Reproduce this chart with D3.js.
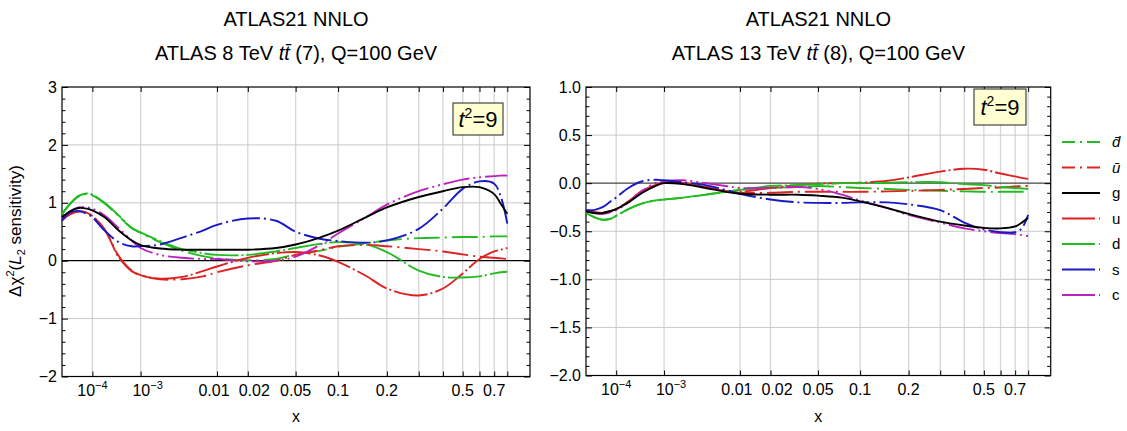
<!DOCTYPE html>
<html><head><meta charset="utf-8">
<script src="https://cdn.jsdelivr.net/npm/d3@7"></script>
<style>
body{margin:0;background:#fff}
svg{font-family:"Liberation Sans",Arial,Helvetica,sans-serif}
</style>
</head><body>
<svg id="chart" width="1127" height="431"></svg>
<script>
// ---------- data ----------
const xGrid = [1e-5, 2e-5, 4e-5, 7e-5, 1e-4, 2e-4, 4e-4, 7e-4, 1e-3, 2e-3, 4e-3, 7e-3,
  0.01, 0.02, 0.035, 0.05, 0.075, 0.1, 0.15, 0.2, 0.3, 0.4, 0.5, 0.6, 0.7, 0.75, 0.8];

const seriesKeys = ["dbar", "ubar", "g", "u", "d", "s", "c"];
const seriesLabels = ["d\u0304", "u\u0304", "g", "u", "d", "s", "c"];

// left panel: ATLAS 8 TeV ttbar (7)
const left_dbar = [0.80, 0.97, 1.11, 1.15, 1.13, 0.99, 0.77, 0.56, 0.48, 0.32, 0.17, 0.08, 0.04, 0.01, 0.03, 0.11, 0.17, 0.24, 0.30, 0.35, 0.39, 0.40, 0.41, 0.41, 0.42, 0.42, 0.42];
const left_ubar = [0.70, 0.80, 0.85, 0.83, 0.77, 0.54, 0.08, -0.17, -0.25, -0.32, -0.32, -0.27, -0.20, -0.08, 0.00, 0.10, 0.18, 0.25, 0.27, 0.25, 0.20, 0.16, 0.11, 0.07, 0.05, 0.04, 0.03];
const left_g    = [0.75, 0.85, 0.91, 0.90, 0.87, 0.75, 0.52, 0.35, 0.27, 0.21, 0.19, 0.19, 0.19, 0.19, 0.22, 0.28, 0.40, 0.52, 0.75, 0.92, 1.10, 1.20, 1.27, 1.27, 1.15, 0.98, 0.81];
const left_u    = [0.70, 0.80, 0.85, 0.83, 0.77, 0.54, 0.06, -0.18, -0.25, -0.31, -0.28, -0.18, -0.10, 0.05, 0.13, 0.15, 0.09, -0.02, -0.26, -0.48, -0.60, -0.48, -0.22, 0.03, 0.16, 0.19, 0.22];
const left_d    = [0.81, 0.98, 1.12, 1.16, 1.14, 1.00, 0.78, 0.57, 0.49, 0.34, 0.20, 0.13, 0.10, 0.10, 0.16, 0.22, 0.29, 0.32, 0.28, 0.15, -0.17, -0.28, -0.29, -0.27, -0.22, -0.20, -0.19];
const left_s    = [0.69, 0.83, 0.86, 0.81, 0.75, 0.52, 0.32, 0.25, 0.25, 0.28, 0.40, 0.52, 0.62, 0.73, 0.69, 0.50, 0.38, 0.34, 0.31, 0.35, 0.55, 0.90, 1.24, 1.37, 1.33, 1.10, 0.64];
const left_c    = [0.72, 0.85, 0.92, 0.92, 0.90, 0.78, 0.56, 0.35, 0.22, 0.10, 0.05, 0.03, 0.03, -0.01, 0.00, 0.07, 0.27, 0.47, 0.75, 0.97, 1.20, 1.32, 1.40, 1.44, 1.46, 1.47, 1.47];

// right panel: ATLAS 13 TeV ttbar (8)
const right_dbar = [-0.31, -0.35, -0.38, -0.37, -0.34, -0.27, -0.21, -0.18, -0.17, -0.15, -0.12, -0.09, -0.07, -0.05, -0.04, -0.03, -0.04, -0.05, -0.06, -0.07, -0.08, -0.085, -0.09, -0.09, -0.09, -0.09, -0.09];
const right_ubar = [-0.28, -0.30, -0.31, -0.29, -0.27, -0.19, -0.08, -0.02, 0.01, 0.00, -0.04, -0.08, -0.10, -0.10, -0.09, -0.09, -0.09, -0.09, -0.085, -0.08, -0.07, -0.06, -0.05, -0.045, -0.035, -0.03, -0.03];
const right_g    = [-0.29, -0.31, -0.31, -0.29, -0.27, -0.20, -0.10, -0.03, 0.00, -0.01, -0.05, -0.09, -0.11, -0.12, -0.12, -0.13, -0.15, -0.19, -0.26, -0.32, -0.40, -0.44, -0.465, -0.47, -0.45, -0.41, -0.36];
const right_u    = [-0.28, -0.30, -0.31, -0.29, -0.27, -0.19, -0.08, -0.02, 0.01, 0.00, -0.04, -0.08, -0.09, -0.05, -0.02, -0.005, 0.00, 0.005, 0.025, 0.06, 0.12, 0.15, 0.14, 0.10, 0.07, 0.055, 0.045];
const right_d    = [-0.31, -0.35, -0.38, -0.37, -0.34, -0.27, -0.21, -0.18, -0.17, -0.15, -0.12, -0.09, -0.07, -0.03, -0.02, -0.01, 0.00, 0.00, 0.005, 0.01, 0.01, -0.01, -0.02, -0.04, -0.05, -0.055, -0.06];
const right_s    = [-0.28, -0.28, -0.25, -0.19, -0.15, -0.05, 0.02, 0.035, 0.03, 0.01, -0.02, -0.07, -0.11, -0.17, -0.20, -0.205, -0.205, -0.20, -0.20, -0.22, -0.28, -0.41, -0.48, -0.51, -0.51, -0.47, -0.33];
const right_c    = [-0.29, -0.31, -0.32, -0.30, -0.28, -0.20, -0.08, 0.00, 0.02, 0.03, 0.00, -0.03, -0.05, -0.05, -0.04, -0.06, -0.12, -0.18, -0.26, -0.33, -0.41, -0.47, -0.50, -0.52, -0.53, -0.54, -0.55];

const xTicks = [1e-4, 1e-3, 0.01, 0.02, 0.05, 0.1, 0.2, 0.3, 0.4, 0.5, 0.6, 0.7, 0.8];
const xTickLabels = ["10^-4", "10^-3", "0.01", "0.02", "0.05", "0.1", "0.2", "", "", "0.5", "", "0.7", ""];
const leftYTicks = [-2, -1, 0, 1, 2, 3];
const rightYTicks = [-2, -1.5, -1, -0.5, 0, 0.5, 1];

const titleLine1 = "ATLAS21 NNLO";
const leftTitle = ["ATLAS 8 TeV ", " (7), Q=100 GeV"];
const rightTitle = ["ATLAS 13 TeV ", " (8), Q=100 GeV"];

// ---------- layout / styles ----------
// small horizontal nudges of the tick labels (px), as in the original figure
const xLabelNudge = [0, 7, -3, 6.5, 0, 0, 0, 0, 0, 0, 0, 0, 0];

const styles = {
  dbar: {color: "#22bb22", dash: "26,5,2,5", legendDash: "13,5,2,5"},
  ubar: {color: "#dd2222", dash: "26,5,2,5", legendDash: "13,5,2,5"},
  g:    {color: "#000000", dash: null, legendDash: null},
  u:    {color: "#dd2222", dash: "34,3,2,3", legendDash: "33,4,2,4"},
  d:    {color: "#22bb22", dash: "34,3,2,3", legendDash: "33,4,2,4"},
  s:    {color: "#1a1ac4", dash: "28,4,2,4", legendDash: "33,4,2,4"},
  c:    {color: "#bb22bb", dash: "26,4,2,4,2,4", legendDash: "33,4,2,4"}
};

const svg = d3.select("#chart");
const FONT = 16;

function drawPanel(cfg) {
  const x = d3.scalePow().exponent(0.2).domain([1e-5, 1]).range([cfg.L, cfg.R]);
  const y = d3.scaleLinear().domain(cfg.yDom).range([cfg.B, cfg.T]);
  const g = svg.append("g");

  // gridlines
  g.append("g").selectAll("line").data(xTicks).join("line")
    .attr("x1", d => x(d)).attr("x2", d => x(d))
    .attr("y1", cfg.T).attr("y2", cfg.B)
    .attr("stroke", "#d6d6d6").attr("stroke-width", 1.3);
  g.append("g").selectAll("line").data(cfg.yTicks.filter(v => v !== 0 && v > cfg.yDom[0] && v < cfg.yDom[1])).join("line")
    .attr("x1", cfg.L).attr("x2", cfg.R)
    .attr("y1", d => y(d)).attr("y2", d => y(d))
    .attr("stroke", "#c8c8c8").attr("stroke-width", 1);
  g.append("line").attr("x1", cfg.L).attr("x2", cfg.R)
    .attr("y1", y(0)).attr("y2", y(0))
    .attr("stroke", cfg.zeroColor).attr("stroke-width", 1.2);

  // minor y ticks
  const minor = d3.range(cfg.yDom[0], cfg.yDom[1] + 1e-9, cfg.minorStep)
    .map(v => +v.toFixed(4)).filter(v => !cfg.yTicks.some(t => Math.abs(t - v) < 1e-6));

  function styleAxis(sel) {
    sel.select(".domain").remove();
    sel.selectAll("line").attr("stroke", "#000").attr("stroke-width", 1);
  }
  const ax = g.append("g").attr("transform", `translate(${cfg.L},0)`)
    .call(d3.axisLeft(y).tickValues(cfg.yTicks).tickSizeInner(-6).tickSizeOuter(0).tickPadding(5).tickFormat(cfg.fmt));
  styleAxis(ax);
  ax.selectAll("text").attr("font-size", FONT).attr("fill", "#000").attr("font-family", "Liberation Sans, Arial, sans-serif");
  const axm = g.append("g").attr("transform", `translate(${cfg.L},0)`)
    .call(d3.axisLeft(y).tickValues(minor).tickSizeInner(-3.5).tickSizeOuter(0).tickFormat(""));
  styleAxis(axm);
  const ar = g.append("g").attr("transform", `translate(${cfg.R},0)`)
    .call(d3.axisRight(y).tickValues(cfg.yTicks).tickSizeInner(-6).tickSizeOuter(0).tickFormat(""));
  styleAxis(ar);
  const arm = g.append("g").attr("transform", `translate(${cfg.R},0)`)
    .call(d3.axisRight(y).tickValues(minor).tickSizeInner(-3.5).tickSizeOuter(0).tickFormat(""));
  styleAxis(arm);
  const ab = g.append("g").attr("transform", `translate(0,${cfg.B})`)
    .call(d3.axisBottom(x).tickValues(xTicks).tickSizeInner(-5).tickSizeOuter(0).tickFormat(""));
  styleAxis(ab);
  const at = g.append("g").attr("transform", `translate(0,${cfg.T})`)
    .call(d3.axisTop(x).tickValues(xTicks).tickSizeInner(-5).tickSizeOuter(0).tickFormat(""));
  styleAxis(at);

  // x tick labels
  xTicks.forEach((t, i) => {
    const lab = xTickLabels[i];
    if (!lab) return;
    const tx = g.append("text").attr("x", x(t) + xLabelNudge[i]).attr("y", cfg.B + 19)
      .attr("text-anchor", "middle").attr("font-size", FONT);
    if (lab.includes("^")) {
      const [b, e] = lab.split("^");
      tx.append("tspan").text(b);
      tx.append("tspan").attr("dy", -7).attr("font-size", 11).text(e.replace("-", "\u2212"));
    } else tx.text(lab);
  });
  g.append("text").attr("x", (cfg.L + cfg.R) / 2).attr("y", 422)
    .attr("text-anchor", "middle").attr("font-size", FONT).text("x");

  // frame
  g.append("rect").attr("x", cfg.L).attr("y", cfg.T)
    .attr("width", cfg.R - cfg.L).attr("height", cfg.B - cfg.T)
    .attr("fill", "none").attr("stroke", "#000").attr("stroke-width", 1.2);

  // curves
  const line = d3.line().x((d, i) => x(xGrid[i])).y(d => y(d)).curve(d3.curveCatmullRom.alpha(0.5));
  const drawOrder = ["dbar", "ubar", "u", "d", "c", "s", "g"];
  drawOrder.forEach(k => {
    const st = styles[k];
    g.append("path").datum(cfg.data[k]).attr("d", line)
      .attr("fill", "none").attr("stroke", st.color).attr("stroke-width", 1.9)
      .attr("stroke-dasharray", st.dash).attr("stroke-linecap", "butt");
  });

  // titles
  const cx = (cfg.L + cfg.R) / 2;
  g.append("text").attr("x", cx).attr("y", 26).attr("text-anchor", "middle")
    .attr("font-size", 20).text(titleLine1);
  const t2 = g.append("text").attr("x", cx).attr("y", 60).attr("text-anchor", "middle").attr("font-size", 20);
  t2.append("tspan").text(cfg.title[0]);
  t2.append("tspan").attr("font-style", "italic").text("tt\u0304");
  t2.append("tspan").text(cfg.title[1]);

  // t^2 = 9 box
  const bx = g.append("g");
  bx.append("rect").attr("x", cfg.box[0]).attr("y", cfg.box[1]).attr("width", cfg.box[2]).attr("height", cfg.box[3])
    .attr("fill", "#ffffd2").attr("stroke", "#222").attr("stroke-width", 1);
  const bt = bx.append("text").attr("x", cfg.box[0] + cfg.box[2] / 2).attr("y", cfg.box[1] + cfg.box[3] / 2 + 8)
    .attr("text-anchor", "middle").attr("font-size", 22);
  bt.append("tspan").attr("font-style", "italic").text("t");
  bt.append("tspan").attr("dy", -9).attr("font-size", 14).text("2");
  bt.append("tspan").attr("dy", 9).text("=9");
}

drawPanel({
  L: 62, R: 530, T: 87, B: 376.5, yDom: [-2, 3], yTicks: leftYTicks, minorStep: 0.2,
  fmt: d3.format("d"), zeroColor: "#000", title: leftTitle, box: [453, 103, 50, 32],
  data: {dbar: left_dbar, ubar: left_ubar, g: left_g, u: left_u, d: left_d, s: left_s, c: left_c}
});
drawPanel({
  L: 586, R: 1050.7, T: 87, B: 375.5, yDom: [-2, 1], yTicks: rightYTicks, minorStep: 0.1,
  fmt: d3.format(".1f"), zeroColor: "#444", title: rightTitle, box: [974, 89, 52, 36],
  data: {dbar: right_dbar, ubar: right_ubar, g: right_g, u: right_u, d: right_d, s: right_s, c: right_c}
});

// y axis label
const yl = svg.append("text").attr("transform", "translate(21,231) rotate(-90)")
  .attr("text-anchor", "middle").attr("font-size", 17);
yl.append("tspan").text("\u0394\u03c7");
yl.append("tspan").attr("dy", -7).attr("font-size", 11).text("2");
yl.append("tspan").attr("dy", 7).text("(");
yl.append("tspan").attr("font-style", "italic").text("L");
yl.append("tspan").attr("dy", 4).attr("font-size", 11).text("2");
yl.append("tspan").attr("dy", -4).text(" sensitivity)");

// legend
const ly = d3.scalePoint().domain(seriesKeys).range([142, 295]);
const leg = svg.append("g");
seriesKeys.forEach((k, i) => {
  const st = styles[k];
  leg.append("line").attr("x1", 1062).attr("x2", 1100).attr("y1", ly(k)).attr("y2", ly(k))
    .attr("stroke", st.color).attr("stroke-width", 1.9).attr("stroke-dasharray", st.legendDash);
  leg.append("text").attr("x", 1112).attr("y", ly(k) + 5).attr("font-size", 15)
    .attr("font-style", i < 2 ? "italic" : "normal").text(seriesLabels[i]);
});
</script>
</body></html>
